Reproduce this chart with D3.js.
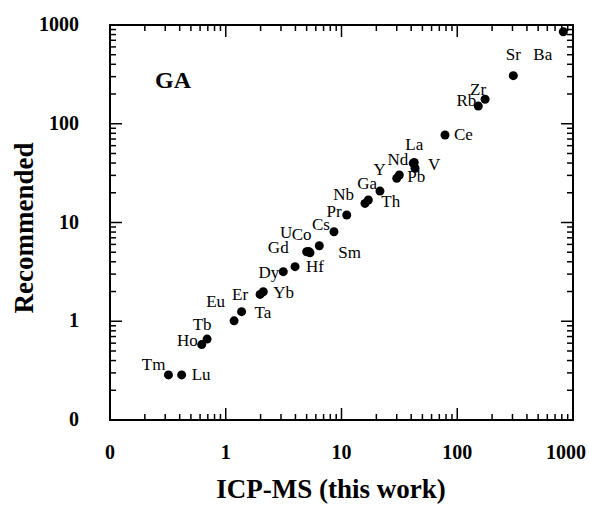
<html>
  <script src="https://d3js.org/d3.v7.min.js"></script>
  <style>
    body { margin: 0; background: white; }
    svg text { font-family: "Liberation Serif", "Times New Roman", serif; fill: black; }
    .tick-label { font-size: 20px; font-weight: bold; }
    .el-label { font-size: 17px; }
    .axis-title { font-size: 27px; font-weight: bold; }
  </style>
  <body>
    <svg id="chart" width="589" height="505"></svg>
    <script>
      // element names and values (ICP-MS this work vs recommended)
      var elements = ["Tm", "Lu", "Ho", "Tb", "Eu", "Ta", "Er", "Yb", "Dy", "Hf",
        "Gd", "U", "Co", "Sm", "Cs", "Pr", "Nb", "Th", "Ga", "Y",
        "Pb", "Nd", "La", "V", "Ce", "Rb", "Zr", "Sr", "Ba"];
      var icpms = [0.32, 0.416, 0.62, 0.69, 1.18, 1.37, 1.98, 2.11, 3.14, 3.97,
        5.0, 5.34, 5.2, 6.43, 8.61, 11.1, 15.96, 17.05, 21.5, 30.0,
        31.6, 41.7, 42.5, 43.2, 78.4, 152, 174, 305, 825];
      var recommended = [0.286, 0.286, 0.58, 0.66, 1.01, 1.25, 1.87, 1.99, 3.18, 3.57,
        5.06, 4.94, 5.1, 5.82, 8.07, 11.9, 15.6, 16.9, 20.8, 28.0,
        30.3, 39.8, 40.5, 35.4, 76.9, 151, 177, 307, 855];
      var tickValues = [0.1, 1, 10, 100, 1000];
      var tickLabels = ["0", "1", "10", "100", "1000"];

      // label placement (offset from the dot, anchor)
      var labelOffsets = {
        Tm: [-3, -5, "end"], Lu: [10, 5, "start"], Ho: [-4, 1, "end"], Tb: [-5, -9, "middle"],
        Eu: [-9, -14, "end"], Ta: [13, 6, "start"], Er: [-12, 6, "end"], Yb: [10, 6, "start"],
        Dy: [-4, 6, "end"], Hf: [11, 5, "start"], Gd: [-18, 1, "end"], U: [-30, -15, "start"],
        Co: [-17, -11, "start"], Sm: [19, 12, "start"], Cs: [-4, -2, "end"], Pr: [-5, 2, "end"],
        Nb: [-11, -3, "end"], Th: [13, 7, "start"], Ga: [-3, -2, "end"], Y: [-11, -3, "end"],
        Pb: [8, 7, "start"], Nd: [-5, 2, "end"], La: [0, -13, "middle"], V: [13, 2, "start"],
        Ce: [9, 5, "start"], Rb: [-2, 0, "end"], Zr: [1, -4, "end"], Sr: [0, -16, "middle"],
        Ba: [-30, 28, "start"]
      };

      var svg = d3.select("#chart");
      var pLeft = 110, pRight = 573, pTop = 25, pBottom = 420;

      var x = d3.scaleLog().domain([0.1, 1000]).range([pLeft, pRight]);
      var y = d3.scaleLog().domain([0.1, 1000]).range([pBottom, pTop]);

      function isMajor(v) {
        var l = Math.log10(v);
        return Math.abs(l - Math.round(l)) < 1e-6;
      }

      var ticks = x.ticks();
      var g = svg.append("g").attr("stroke", "black").attr("stroke-width", 1.5);

      ticks.forEach(function (t) {
        var len = isMajor(t) ? 12 : 6;
        // bottom and top
        g.append("line").attr("x1", x(t)).attr("x2", x(t)).attr("y1", pBottom).attr("y2", pBottom - len);
        g.append("line").attr("x1", x(t)).attr("x2", x(t)).attr("y1", pTop).attr("y2", pTop + len);
        // left and right
        g.append("line").attr("y1", y(t)).attr("y2", y(t)).attr("x1", pLeft).attr("x2", pLeft + len);
        g.append("line").attr("y1", y(t)).attr("y2", y(t)).attr("x1", pRight).attr("x2", pRight - len);
      });

      svg.append("rect")
        .attr("x", pLeft).attr("y", pTop)
        .attr("width", pRight - pLeft).attr("height", pBottom - pTop)
        .attr("fill", "none").attr("stroke", "black").attr("stroke-width", 2);

      tickValues.forEach(function (t, i) {
        svg.append("text").attr("class", "tick-label")
          .attr("x", Math.min(x(t), 566)).attr("y", 459)
          .attr("text-anchor", "middle")
          .text(tickLabels[i]);
        svg.append("text").attr("class", "tick-label")
          .attr("x", 79).attr("y", y(t) + 6)
          .attr("text-anchor", "end")
          .text(tickLabels[i]);
      });

      svg.append("text").attr("class", "axis-title")
        .attr("x", 331).attr("y", 498)
        .attr("text-anchor", "middle")
        .text("ICP-MS (this work)");

      svg.append("text").attr("class", "axis-title")
        .attr("transform", "translate(33,228) rotate(-90)")
        .attr("text-anchor", "middle")
        .text("Recommended");

      svg.append("text")
        .attr("x", 155).attr("y", 88)
        .style("font-size", "24px").style("font-weight", "bold")
        .text("GA");

      var data = elements.map(function (e, i) {
        return { name: e, icp: icpms[i], rec: recommended[i] };
      });

      svg.append("g").selectAll("circle")
        .data(data)
        .enter()
        .append("circle")
        .attr("cx", function (d) { return x(d.icp); })
        .attr("cy", function (d) { return y(d.rec); })
        .attr("r", 4.5)
        .attr("fill", "black");

      svg.append("g").selectAll("text")
        .data(data)
        .enter()
        .append("text")
        .attr("class", "el-label")
        .attr("x", function (d) { return x(d.icp) + labelOffsets[d.name][0]; })
        .attr("y", function (d) { return y(d.rec) + labelOffsets[d.name][1]; })
        .attr("text-anchor", function (d) { return labelOffsets[d.name][2]; })
        .text(function (d) { return d.name; });
    </script>
  </body>
</html>
